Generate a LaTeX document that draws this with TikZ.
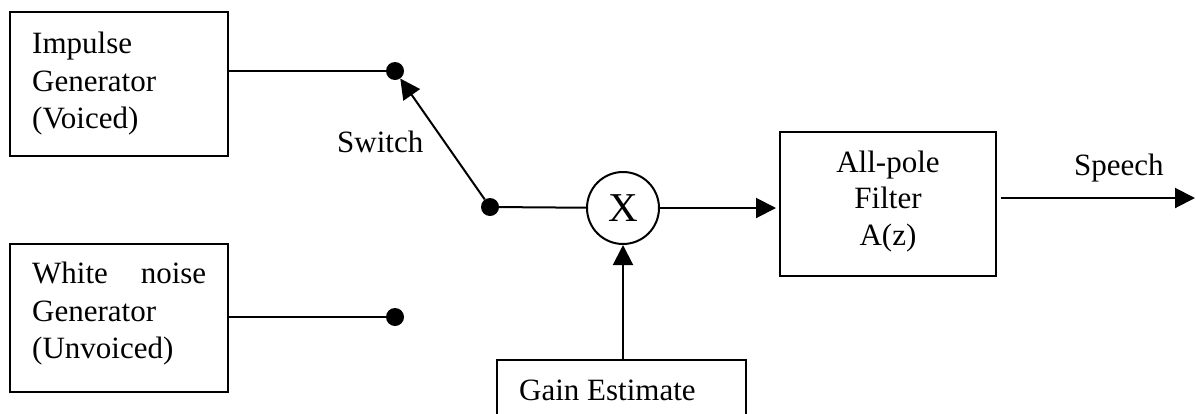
\documentclass[tikz,border=0pt]{standalone}
\usepackage{fontspec}
\setmainfont{Liberation Serif}
\usetikzlibrary{arrows.meta}
\begin{document}
\begin{tikzpicture}[x=1pt,y=-1pt,
  box/.style={draw,line width=2pt,inner sep=0pt},
  txt/.style={inner sep=0pt,anchor=base west,font=\fontsize{31}{37.5}\selectfont},
  ctxt/.style={inner sep=0pt,anchor=base,font=\fontsize{31}{37.5}\selectfont},
  dot/.style={circle,fill,inner sep=0pt,minimum size=18pt},
  wire/.style={line width=2pt},
  arr/.style={wire,-{Triangle[length=20pt,width=20pt]}}]
\useasboundingbox (0,0) rectangle (1196,413);
\clip (0,0) rectangle (1196,413);
% boxes
\node[box,minimum width=218pt,minimum height=144pt] (imp) at (119,84) {};
\node[box,minimum width=218pt,minimum height=148pt] (noise) at (119,318) {};
\node[box,minimum width=216pt,minimum height=144pt] (filter) at (888,204) {};
\node[box,minimum width=249pt,minimum height=90pt] (gain) at (621.5,405) {};
% texts
\node[txt] (t1) at (32,53) {Impulse};
\node[txt] (t2) at (32,91) {Generator};
\node[txt] (t3) at (32,128) {(Voiced)};
\node[txt] (t4) at (32,283) {\makebox[174pt][s]{White noise}};
\node[txt] (t5) at (32,321) {Generator};
\node[txt] (t6) at (32,358) {(Unvoiced)};
\node[ctxt] (f1) at (888,172) {All-pole};
\node[ctxt] (f2) at (888,208) {Filter};
\node[ctxt] (f3) at (888,245) {A(z)};
\node[txt] (g1) at (519,400) {Gain Estimate};
\node[txt] (sw) at (337,152) {Switch};
\node[txt] (sp) at (1074,175) {Speech};
% dots and multiplier
\node[dot] (d1) at (395,71) {};
\node[dot] (d2) at (395,317) {};
\node[dot] (piv) at (490,207) {};
\node[draw,circle,line width=2pt,minimum size=72pt,inner sep=0pt,font=\fontsize{41}{41}\selectfont] (mult) at (623,208) {X};
\coordinate (s0) at (1001,198);
\coordinate (s1) at (1195,198);
% connectors
\draw[wire] (imp.east |- d1) -- (d1);
\draw[wire] (noise.east |- d2) -- (d2);
\draw[arr] (piv) -- (d1);
\draw[wire] (piv) -- (mult);
\draw[arr,shorten >=3pt] (mult.east) -- (filter.west |- mult.east);
\draw[arr] (gain.north -| mult) -- (mult);
\draw[arr] (s0) -- (s1);
\end{tikzpicture}
\end{document}
